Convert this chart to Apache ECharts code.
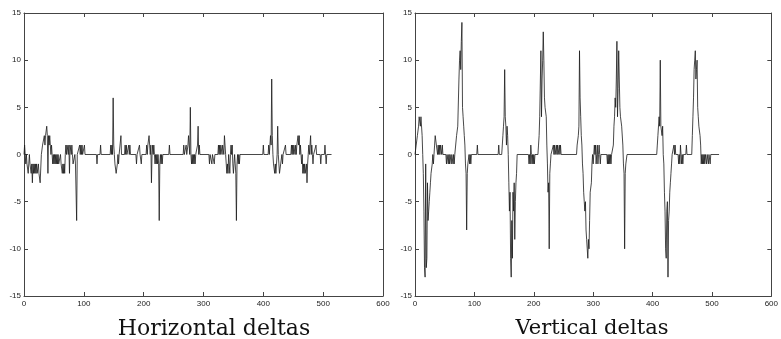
<!DOCTYPE html>
<html>
<head>
<meta charset="utf-8">
<script src="https://cdn.jsdelivr.net/npm/echarts@6/dist/echarts.min.js"></script>
<style>
  html, body { margin: 0; padding: 0; background: #fff; }
  #chart { width: 781px; height: 339px; }
</style>
</head>
<body>
<div id="chart"></div>
<script>
// sample index, delta value
const horizontal = [
  [0,0],[1,1],[2,0],[3,-1],[4,0],[5,-1],[7,-2],[8,-1],[9,0],[10,-1],[12,-2],[13,-1],[14,-3],[15,-1],
  [16,-2],[17,-1],[18,-2],[19,-1],[20,-2],[21,-1],[22,-2],[24,-1],[25,-2],[27,-3],[29,0],[31,1],
  [33,1],[34,2],[35,1],[36,2],[37,2],[38,3],[39,2],[40,-2],[41,2],[42,1],[43,2],[44,1],[45,0],
  [46,1],[47,0],[48,-1],[49,0],[50,-1],[51,0],[52,-1],[53,0],[54,-1],[55,0],[56,-1],[57,0],[58,-1],
  [60,-1],[61,0],[62,-1],[63,-1],[64,-2],[65,-1],[66,-2],[67,-1],[68,-2],[69,0],[70,1],[71,0],
  [72,1],[73,1],[74,0],[75,1],[76,-2],[77,1],[78,1],[79,0],[80,1],[81,0],[82,-1],[84,-1],[85,0],
  [86,-1],[87,-1],[88,-7],[89,0],[92,0],[93,1],[94,0],[95,1],[96,0],[97,1],[98,0],[100,0],[101,1],
  [102,0],[121,0],[122,-1],[123,0],[127,0],[128,1],[129,0],[144,0],[145,1],[146,0],[147,1],[148,0],
  [149,6],[150,1],[151,0],[152,-1],[153,-1],[154,-2],[155,-2],[156,-1],[157,0],[158,-1],[159,0],
  [161,0],[162,2],[163,0],[168,0],[169,1],[170,0],[171,1],[172,0],[174,0],[175,1],[176,0],[177,1],
  [178,0],[187,0],[188,-1],[189,0],[192,0],[193,1],[194,0],[196,-1],[197,0],[204,0],[205,1],[206,0],
  [207,1],[208,1],[209,2],[210,1],[211,0],[212,1],[213,-3],[214,0],[215,1],[216,0],[217,1],[218,0],
  [219,-1],[220,0],[221,-1],[222,0],[223,-1],[224,0],[225,-1],[226,-7],[227,-1],[228,0],[229,-1],
  [230,0],[231,-1],[232,0],[242,0],[243,1],[244,0],[266,0],[267,1],[268,0],[270,0],[271,1],[272,0],
  [274,1],[275,2],[276,1],[277,0],[278,5],[279,0],[280,-1],[281,0],[282,-1],[283,0],[284,-1],[285,0],
  [286,-1],[287,0],[289,0],[290,1],[291,3],[292,0],[293,1],[294,0],[309,0],[310,-1],[311,0],[313,0],
  [314,-1],[315,0],[317,0],[318,-1],[319,0],[324,0],[325,1],[326,0],[327,1],[328,0],[329,1],[330,1],
  [331,0],[332,1],[333,1],[334,0],[335,2],[336,1],[337,0],[338,-1],[339,-2],[340,-1],[341,-2],[342,0],
  [343,-1],[344,-2],[345,0],[346,1],[347,0],[348,1],[349,-1],[350,-2],[351,-1],[352,0],[353,-1],
  [354,-2],[355,-7],[356,-1],[357,0],[358,-1],[359,0],[360,-1],[361,0],[399,0],[400,1],[401,0],
  [408,0],[409,1],[410,0],[411,1],[412,2],[413,1],[414,8],[415,2],[416,0],[417,-1],[418,-1],[419,-2],
  [420,-1],[421,-2],[422,-1],[423,0],[424,3],[425,0],[426,-1],[427,-2],[428,-2],[429,-1],[430,-1],
  [431,0],[432,-1],[433,0],[436,0],[437,1],[438,0],[446,0],[447,1],[448,0],[449,1],[450,0],[451,1],
  [452,1],[453,0],[454,1],[455,0],[456,1],[457,1],[458,2],[459,1],[460,2],[461,0],[462,1],[463,0],
  [464,-1],[465,0],[466,-2],[467,-1],[468,-2],[469,-1],[470,-2],[471,-2],[472,-1],[473,-3],[474,-1],
  [475,0],[476,1],[477,0],[478,1],[479,2],[480,0],[481,1],[482,0],[483,-1],[484,0],[487,0],[488,1],
  [489,0],[495,0],[496,-1],[497,0],[502,0],[503,1],[504,0],[505,-1],[506,0],[514,0]
];

const vertical = [
  [0,0],[2,1],[4,2],[5,2],[6,3],[7,4],[8,4],[9,3],[10,4],[11,4],[12,2],[13,0],[14,-2],[15,-6],
  [16,-12],[17,-13],[18,-1],[19,-12],[20,-11],[21,-3],[22,-7],[23,-6],[24,-5],[25,-4],[26,-3],
  [27,-2],[28,-2],[29,-1],[30,0],[31,-1],[32,0],[33,1],[34,2],[35,2],[36,1],[37,1],[38,0],[39,1],
  [40,0],[41,1],[42,0],[43,1],[44,1],[45,0],[46,1],[47,0],[52,0],[53,-1],[54,0],[56,-1],[57,0],
  [58,-1],[59,0],[61,-1],[62,0],[64,-1],[65,0],[66,-1],[67,0],[69,0],[70,2],[71,2],[72,3],[73,3],
  [74,8],[75,10],[76,11],[77,9],[78,12],[79,14],[80,5],[81,4],[82,3],[83,2],[84,1],[85,-1],[86,-2],
  [87,-8],[88,-2],[89,-1],[90,-1],[91,0],[92,-1],[93,0],[94,-1],[95,0],[104,0],[105,1],[106,0],
  [140,0],[141,1],[142,0],[146,0],[147,1],[148,2],[149,3],[150,4],[151,9],[152,4],[153,3],[154,1],
  [155,3],[156,2],[157,0],[158,-3],[159,-6],[160,-4],[161,-11],[162,-13],[163,-7],[164,-11],[165,-4],
  [166,-6],[167,-3],[168,-9],[169,-5],[170,-3],[171,-2],[172,0],[191,0],[192,-1],[193,0],[194,-1],
  [195,1],[196,0],[197,-1],[198,0],[199,-1],[200,0],[201,-1],[202,0],[207,0],[208,1],[209,2],[210,4],
  [211,4],[212,11],[213,4],[214,8],[215,10],[216,13],[217,10],[218,6],[219,5],[220,5],[221,4],
  [222,1],[223,-1],[224,-4],[225,-3],[226,-10],[227,-2],[228,-1],[229,0],[232,0],[233,1],[234,0],
  [235,1],[236,0],[238,1],[239,0],[240,1],[241,0],[243,1],[244,0],[245,1],[246,0],[272,0],[273,1],
  [274,1],[275,2],[276,3],[277,11],[278,6],[279,4],[280,2],[281,1],[282,-1],[283,-2],[284,-4],
  [285,-5],[286,-6],[287,-5],[288,-8],[289,-9],[290,-10],[291,-11],[292,-9],[293,-10],[294,-7],
  [295,-4],[296,-4],[297,-3],[298,-1],[299,0],[300,-1],[301,0],[302,1],[303,0],[304,1],[305,-1],
  [306,0],[307,1],[308,-1],[309,0],[310,1],[311,0],[312,-1],[313,0],[323,0],[324,-1],[325,0],
  [326,-1],[327,0],[328,-1],[329,0],[330,-1],[331,0],[333,0],[334,1],[335,3],[336,4],[337,6],
  [338,5],[339,8],[340,12],[341,4],[342,7],[343,11],[344,8],[345,5],[346,4],[347,4],[348,3],[349,3],
  [350,1],[351,-1],[352,-2],[353,-10],[354,-2],[355,-1],[356,-1],[357,0],[407,0],[408,1],[409,2],
  [410,2],[411,4],[412,3],[413,10],[414,3],[415,3],[416,2],[417,3],[418,0],[419,-1],[420,-4],
  [421,-6],[422,-10],[423,-11],[424,-6],[425,-5],[426,-13],[427,-7],[428,-6],[429,-4],[430,-3],
  [431,-2],[432,-1],[433,0],[435,0],[436,1],[437,0],[438,1],[439,0],[443,0],[444,-1],[445,0],
  [446,-1],[447,1],[448,0],[449,-1],[450,0],[451,-1],[452,0],[456,0],[457,1],[458,0],[466,0],
  [467,2],[468,4],[469,6],[470,9],[471,10],[472,11],[473,8],[474,9],[475,10],[476,5],[477,4],
  [478,3],[479,3],[480,2],[481,1],[482,-1],[483,0],[484,-1],[485,0],[486,-1],[487,0],[488,-1],
  [489,0],[491,-1],[492,0],[494,-1],[495,0],[497,-1],[498,0],[512,0]
];

const titles = ['Horizontal deltas', 'Vertical deltas'];
const xRange = [0, 600, 100];
const yRange = [-15, 15, 5];

const axisColor = '#444';
const labelStyle = { fontSize: 8, color: '#222', fontFamily: 'Liberation Sans' };

function xAx(grid, pos, labels) {
  return {
    type: 'value', gridIndex: grid, position: pos,
    min: xRange[0], max: xRange[1], interval: xRange[2],
    axisLine: { show: true, onZero: false, lineStyle: { color: axisColor, width: 1 } },
    axisTick: { show: true, inside: true, length: 4, lineStyle: { color: axisColor } },
    axisLabel: Object.assign({ show: labels, margin: 4 }, labelStyle),
    splitLine: { show: false }
  };
}
function yAx(grid, pos, labels) {
  return {
    type: 'value', gridIndex: grid, position: pos,
    min: yRange[0], max: yRange[1], interval: yRange[2],
    axisLine: { show: true, onZero: false, lineStyle: { color: axisColor, width: 1 } },
    axisTick: { show: true, inside: true, length: 4, lineStyle: { color: axisColor } },
    axisLabel: Object.assign({ show: labels, margin: 3 }, labelStyle),
    splitLine: { show: false }
  };
}

const chart = echarts.init(document.getElementById('chart'));
const option = {
  animation: false,
  backgroundColor: '#fff',
  grid: [
    { left: 24, right: 398, top: 13, bottom: 43 },
    { left: 415, right: 5, top: 13, bottom: 43 }
  ],
  xAxis: [xAx(0, 'bottom', true), xAx(1, 'bottom', true), xAx(0, 'top', false), xAx(1, 'top', false)],
  yAxis: [yAx(0, 'left', true), yAx(1, 'left', true), yAx(0, 'right', false), yAx(1, 'right', false)],
  series: [
    {
      name: titles[0], type: 'line', xAxisIndex: 0, yAxisIndex: 0,
      data: horizontal, showSymbol: false, symbol: 'none',
      lineStyle: { color: '#1a1a1a', width: 0.8 }
    },
    {
      name: titles[1], type: 'line', xAxisIndex: 1, yAxisIndex: 1,
      data: vertical, showSymbol: false, symbol: 'none',
      lineStyle: { color: '#1a1a1a', width: 0.8 }
    }
  ],
  graphic: [
    { type: 'text', x: 214, y: 318, style: { text: titles[0], textAlign: 'center',
      font: '22px "DejaVu Serif"', fill: '#111' } },
    { type: 'text', x: 592, y: 318, style: { text: titles[1], textAlign: 'center',
      font: '21px "DejaVu Serif"', fill: '#111' } }
  ]
};
chart.setOption(option);
</script>
</body>
</html>
